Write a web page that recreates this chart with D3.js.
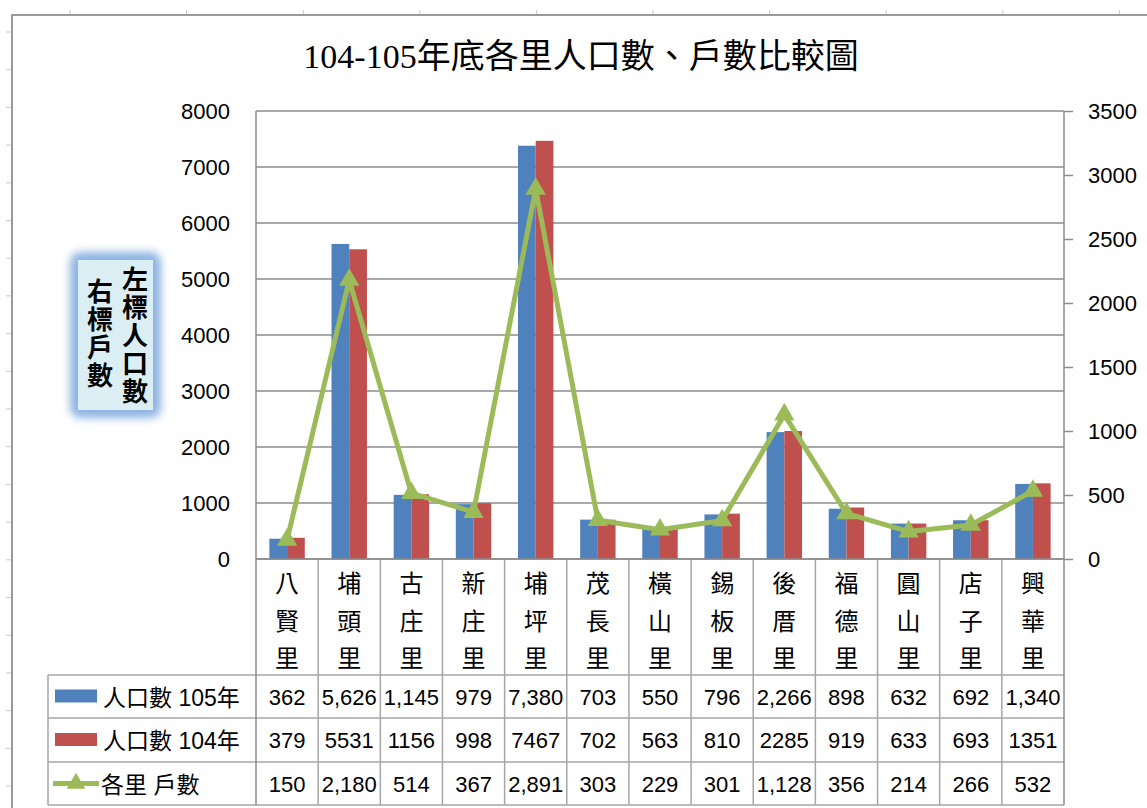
<!DOCTYPE html>
<html>
<head>
<meta charset="utf-8">
<script src="https://cdn.jsdelivr.net/npm/d3@7"></script>
<style>
  body { margin: 0; background: #fff; }
  svg { display: block; }
</style>
</head>
<body>
<div id="chart"></div>
<script>
// data
var villages = ["八賢里", "埔頭里", "古庄里", "新庄里", "埔坪里", "茂長里", "橫山里", "錫板里", "後厝里", "福德里", "圓山里", "店子里", "興華里"];
var pop105 = [362, 5626, 1145, 979, 7380, 703, 550, 796, 2266, 898, 632, 692, 1340];
var pop104 = [379, 5531, 1156, 998, 7467, 702, 563, 810, 2285, 919, 633, 693, 1351];
var households = [150, 2180, 514, 367, 2891, 303, 229, 301, 1128, 356, 214, 266, 532];
var leftTicks = [0, 1000, 2000, 3000, 4000, 5000, 6000, 7000, 8000];
var rightTicks = [0, 500, 1000, 1500, 2000, 2500, 3000, 3500];
var seriesNames = ["人口數 105年", "人口數 104年", "各里 戶數"];

var width = 1147, height = 808;
var blue = "#4f81bd", red = "#c0504d", green = "#9bbb59";
var gridColor = "#8c8c8c", tableColor = "#a6a6a6";
var numFont = "'Liberation Sans', 'Noto Sans CJK TC', sans-serif";
var cjkFont = "'Noto Sans CJK TC', sans-serif";

// plot area
var plotLeft = 256, plotRight = 1064, plotTop = 111, plotBottom = 559;
var rowLines = [675, 718, 762, 805];
var tableLeft = 48;

var svg = d3.select("#chart")
    .append("svg")
    .attr("width", width)
    .attr("height", height);

var defs = svg.append("defs");
var glow = defs.append("filter").attr("id", "glow")
    .attr("x", "-50%").attr("y", "-50%").attr("width", "200%").attr("height", "200%");
glow.append("feGaussianBlur").attr("stdDeviation", 4.5);

// spreadsheet cell marks outside the chart
var sheet = svg.append("g").attr("stroke", "#c8c8c8").attr("stroke-width", 1);
d3.range(70, width, 116.6).forEach(function(x) {
    sheet.append("line").attr("x1", x).attr("x2", x).attr("y1", 10).attr("y2", 15);
});
d3.range(32, height, 37.7).forEach(function(y) {
    sheet.append("line").attr("x1", 6).attr("x2", 12).attr("y1", y).attr("y2", y);
});

// chart frame
svg.append("path")
    .attr("d", "M12," + height + "V15H" + width)
    .attr("fill", "none")
    .attr("stroke", "#9a9a9a")
    .attr("stroke-width", 2);

// title
var title = svg.append("text")
    .attr("x", 581)
    .attr("y", 68)
    .attr("text-anchor", "middle")
    .attr("fill", "#000");
title.append("tspan")
    .attr("font-family", "'Liberation Serif', serif")
    .attr("font-size", 34)
    .text("104-105");
title.append("tspan")
    .attr("font-family", cjkFont)
    .attr("font-size", 34)
    .text("年底各里人口數、戶數比較圖");

// scales
var x = d3.scaleBand()
    .domain(villages)
    .range([plotLeft, plotRight])
    .padding(0);
var yLeft = d3.scaleLinear().domain([0, 8000]).range([plotBottom, plotTop]);
var yRight = d3.scaleLinear().domain([0, 3500]).range([plotBottom, plotTop]);
var barW = x.bandwidth() * 0.285;

// gridlines
svg.append("g")
    .selectAll("line")
    .data(leftTicks)
    .enter()
    .append("line")
    .attr("x1", plotLeft)
    .attr("x2", plotRight)
    .attr("y1", function(d) { return yLeft(d); })
    .attr("y2", function(d) { return yLeft(d); })
    .attr("stroke", gridColor)
    .attr("stroke-width", 1.5);

// left axis labels
var leftAxis = d3.axisLeft(yLeft).tickValues(leftTicks).tickFormat(d3.format("d"))
    .tickSize(0).tickPadding(26);
var gl = svg.append("g")
    .attr("transform", "translate(" + plotLeft + ",0)")
    .call(leftAxis);
gl.select(".domain").remove();
gl.selectAll("text")
    .attr("font-family", numFont)
    .attr("font-size", 22)
    .attr("fill", "#000");

// right axis
var rightAxis = d3.axisRight(yRight).tickValues(rightTicks).tickFormat(d3.format("d"))
    .tickSize(9).tickPadding(15);
var gr = svg.append("g")
    .attr("transform", "translate(" + plotRight + ",0)")
    .call(rightAxis);
gr.select(".domain").remove();
gr.selectAll("line").attr("stroke", gridColor).attr("stroke-width", 1.5);
gr.selectAll("text")
    .attr("font-family", numFont)
    .attr("font-size", 22)
    .attr("fill", "#000");

// bars
var bars = svg.append("g");
bars.selectAll("rect.b105")
    .data(pop105)
    .enter()
    .append("rect")
    .attr("class", "b105")
    .attr("x", function(d, i) { return x(villages[i]) + x.bandwidth() / 2 - barW; })
    .attr("y", function(d) { return yLeft(d); })
    .attr("width", barW)
    .attr("height", function(d) { return plotBottom - yLeft(d); })
    .attr("fill", blue);
bars.selectAll("rect.b104")
    .data(pop104)
    .enter()
    .append("rect")
    .attr("class", "b104")
    .attr("x", function(d, i) { return x(villages[i]) + x.bandwidth() / 2; })
    .attr("y", function(d) { return yLeft(d); })
    .attr("width", barW)
    .attr("height", function(d) { return plotBottom - yLeft(d); })
    .attr("fill", red);

// table grid and axis lines
var grid = svg.append("g").attr("stroke", tableColor).attr("stroke-width", 1.5);
x.domain().forEach(function(v, i) {
    if (i > 0) {
        grid.append("line")
            .attr("x1", x(v)).attr("x2", x(v))
            .attr("y1", plotBottom).attr("y2", rowLines[3]);
    }
});
rowLines.forEach(function(y) {
    grid.append("line")
        .attr("x1", tableLeft).attr("x2", plotRight)
        .attr("y1", y).attr("y2", y);
});
grid.append("line")
    .attr("x1", tableLeft).attr("x2", tableLeft)
    .attr("y1", rowLines[0]).attr("y2", rowLines[3]);
svg.append("g").attr("stroke", gridColor).attr("stroke-width", 1.5)
    .selectAll("line")
    .data([plotLeft, plotRight])
    .enter()
    .append("line")
    .attr("x1", function(d) { return d; })
    .attr("x2", function(d) { return d; })
    .attr("y1", plotTop)
    .attr("y2", rowLines[3]);
svg.append("line")
    .attr("x1", plotLeft).attr("x2", plotRight)
    .attr("y1", plotBottom).attr("y2", plotBottom)
    .attr("stroke", gridColor).attr("stroke-width", 1.5);

// households line
var line = d3.line()
    .x(function(d, i) { return x(villages[i]) + x.bandwidth() / 2; })
    .y(function(d) { return yRight(d); });
svg.append("path")
    .datum(households)
    .attr("d", line)
    .attr("fill", "none")
    .attr("stroke", green)
    .attr("stroke-width", 5)
    .attr("stroke-linejoin", "round");
svg.append("g")
    .selectAll("path")
    .data(households)
    .enter()
    .append("path")
    .attr("d", d3.symbol().type(d3.symbolTriangle).size(180))
    .attr("transform", function(d, i) {
        return "translate(" + (x(villages[i]) + x.bandwidth() / 2) + "," + yRight(d) + ")";
    })
    .attr("fill", green);

// category labels (vertical)
var cats = svg.append("g")
    .attr("font-family", cjkFont)
    .attr("font-size", 24)
    .attr("fill", "#000")
    .attr("text-anchor", "middle");
villages.forEach(function(v) {
    var t = cats.append("text")
        .attr("x", x(v) + x.bandwidth() / 2)
        .attr("y", 592);
    v.split("").forEach(function(ch, j) {
        t.append("tspan")
            .attr("x", x(v) + x.bandwidth() / 2)
            .attr("dy", j === 0 ? 0 : 37.5)
            .text(ch);
    });
});

// data table
var fmtComma = d3.format(",");
var fmtPlain = d3.format("d");
var rows = [
    { vals: pop105, fmt: fmtComma },
    { vals: pop104, fmt: fmtPlain },
    { vals: households, fmt: fmtComma }
];
rows.forEach(function(r, k) {
    var cy = (rowLines[k] + rowLines[k + 1]) / 2;
    svg.append("g")
        .selectAll("text")
        .data(r.vals)
        .enter()
        .append("text")
        .attr("x", function(d, i) { return x(villages[i]) + x.bandwidth() / 2; })
        .attr("y", cy + 8)
        .attr("text-anchor", "middle")
        .attr("font-family", numFont)
        .attr("font-size", 22)
        .attr("fill", "#000")
        .text(function(d) { return r.fmt(d); });
});

// legend keys in table
var keyY = function(k) { return (rowLines[k] + rowLines[k + 1]) / 2; };
svg.append("rect").attr("x", 55).attr("y", keyY(0) - 7).attr("width", 42).attr("height", 13).attr("fill", blue);
svg.append("rect").attr("x", 55).attr("y", keyY(1) - 7).attr("width", 42).attr("height", 13).attr("fill", red);
svg.append("line")
    .attr("x1", 53).attr("x2", 99)
    .attr("y1", keyY(2)).attr("y2", keyY(2))
    .attr("stroke", green).attr("stroke-width", 5);
svg.append("path")
    .attr("d", d3.symbol().type(d3.symbolTriangle).size(150))
    .attr("transform", "translate(76," + keyY(2) + ")")
    .attr("fill", green);
seriesNames.forEach(function(s, k) {
    svg.append("text")
        .attr("x", k === 2 ? 101 : 103)
        .attr("y", keyY(k) + 9)
        .attr("font-family", numFont)
        .attr("font-size", 23)
        .attr("fill", "#000")
        .text(s);
});

// note box
var note = svg.append("g");
note.append("rect")
    .attr("x", 70).attr("y", 252).attr("width", 91).attr("height", 166)
    .attr("rx", 10)
    .attr("fill", "#8db4e2")
    .attr("filter", "url(#glow)");
note.append("rect")
    .attr("x", 78).attr("y", 260).attr("width", 75).attr("height", 150)
    .attr("fill", "#dbeef4");
var noteCols = [
    { text: "左標人口數", x: 135, y0: 266 },
    { text: "右標戶數", x: 100, y0: 278 }
];
noteCols.forEach(function(c) {
    note.append("text")
        .attr("x", c.x)
        .attr("y", c.y0)
        .attr("writing-mode", "vertical-rl")
        .attr("letter-spacing", 2)
        .attr("font-family", cjkFont)
        .attr("font-weight", "bold")
        .attr("font-size", 26)
        .attr("fill", "#000")
        .text(c.text);
});
</script>
</body>
</html>
